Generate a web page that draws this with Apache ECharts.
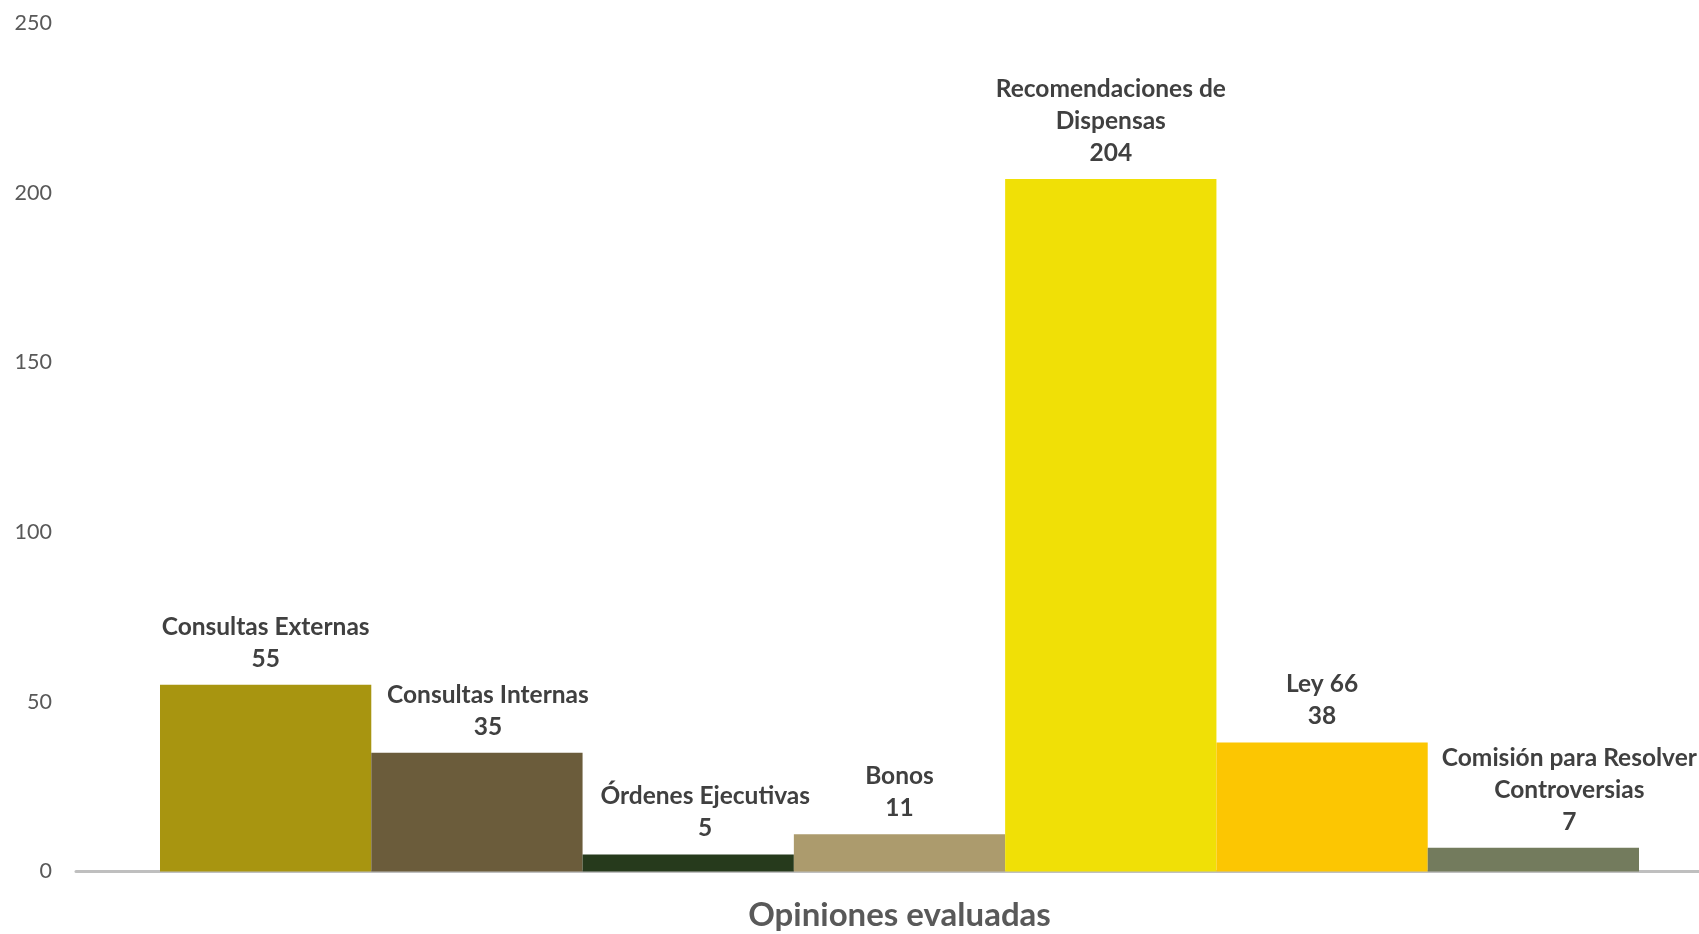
<!DOCTYPE html>
<html>
<head>
<meta charset="utf-8">
<script src="https://cdn.jsdelivr.net/npm/echarts@6/dist/echarts.min.js"></script>
<style>
html,body{margin:0;padding:0;background:#fff;}
#chart{width:1699px;height:934px;}
</style>
</head>
<body>
<div id="chart"></div>
<script>
var category = ['Opiniones evaluadas'];
var seriesNames = ['Consultas Externas', 'Consultas Internas', 'Órdenes Ejecutivas', 'Bonos', 'Recomendaciones de Dispensas', 'Ley 66', 'Comisión para Resolver Controversias'];
var labelNames = ['Consultas Externas', 'Consultas Internas', 'Órdenes Ejecutivas', 'Bonos', 'Recomendaciones de\nDispensas', 'Ley 66', 'Comisión para Resolver\nControversias'];
var values = [55, 35, 5, 11, 204, 38, 7];
var colors = ['#A89510', '#6B5C3B', '#263A1C', '#AC9B6D', '#F0E006', '#FCC602', '#737B5D'];
var labelOffsetX = [0, 11, 17, 0, 0, 0, 36];
var yTicks = [0, 50, 100, 150, 200, 250];

var FONT = 'Lato';
var chart = echarts.init(document.getElementById('chart'));
var series = seriesNames.map(function (name, i) {
  return {
    name: name,
    type: 'bar',
    data: [values[i]],
    barGap: '0%',
    barCategoryGap: '10.2%',
    itemStyle: { color: colors[i] },
    label: {
      show: true,
      position: 'top',
      distance: 10,
      offset: [labelOffsetX[i], 0],
      formatter: function (p) { return labelNames[i] + '\n' + p.value; },
      fontFamily: FONT,
      fontWeight: 'bold',
      fontSize: 24.5,
      lineHeight: 32,
      color: '#404040'
    }
  };
});

chart.setOption({
  animation: false,
  grid: { left: 76, top: 23, width: 1647, bottom: 62.5, containLabel: false, outerBoundsMode: 'none' },
  xAxis: {
    type: 'category',
    data: category,
    axisLine: { show: true, lineStyle: { color: '#BFBFBF', width: 3 } },
    axisTick: { show: false },
    axisLabel: { show: false },
    name: category[0],
    nameLocation: 'middle',
    nameGap: 27,
    nameTextStyle: { fontFamily: FONT, fontWeight: 'bold', fontSize: 33, color: '#595959' }
  },
  yAxis: {
    type: 'value',
    min: 0,
    max: 250,
    interval: 50,
    axisLine: { show: false },
    axisTick: { show: false },
    splitLine: { show: false },
    axisLabel: { fontFamily: FONT, fontSize: 21.5, color: '#595959', margin: 24 }
  },
  series: series
});
</script>
</body>
</html>
